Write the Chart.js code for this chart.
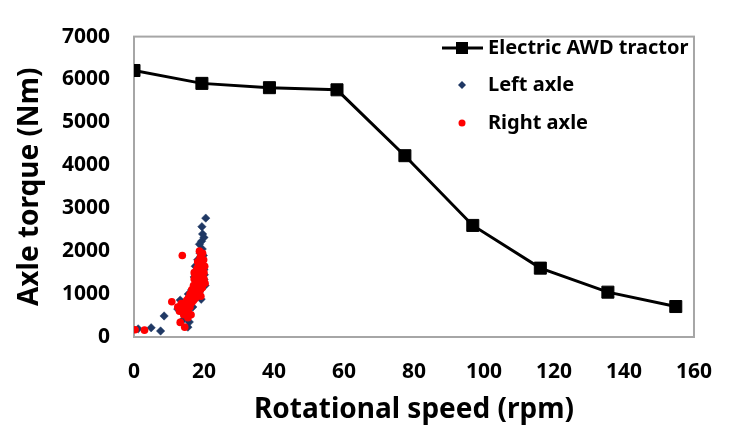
<!DOCTYPE html>
<html>
<head>
<meta charset="utf-8">
<script src="https://cdn.jsdelivr.net/npm/chart.js@4.4.1/dist/chart.umd.min.js"></script>
<style>
html,body{margin:0;padding:0;background:#fff;}
#wrap{width:734px;height:434px;position:relative;}
</style>
</head>
<body>
<div id="wrap"><canvas id="c" width="734" height="434"></canvas></div>
<script>
// ---- data ----
const tractorSpeed = [0, 19.4, 38.7, 58.0, 77.4, 96.8, 116.1, 135.4, 154.8];
const tractorTorque = [6210, 5910, 5810, 5760, 4225, 2600, 1605, 1045, 710];

const leftSpeed  = [1.2, 4.9, 7.6, 8.6, 15.4, 13.2, 14.5, 15.0, 16.0, 16.5, 17.0, 17.8, 18.5, 18.7, 19.0, 19.3, 18.7, 20.0, 19.4, 20.5, 20.0, 20.0, 19.8, 19.5, 20.3, 19.0, 18.2, 14.0, 15.8, 12.5, 20.1, 19.6, 18.9, 17.5, 16.8, 15.5, 17.2, 19.2];
const leftTorque = [190, 215, 140, 490, 230, 860, 750, 600, 900, 1100, 1000, 1300, 1500, 1050, 1700, 2230, 2160, 2320, 2570, 2770, 1570, 1340, 1900, 2050, 1200, 1250, 1800, 400, 350, 650, 1450, 2400, 1950, 1650, 700, 1000, 1400, 880];

const rightSpeed  = [0.3, 3.0, 13.8, 10.8, 13.2, 14.5, 15.4, 12.5, 13.0, 13.5, 14.0, 14.2, 14.8, 15.0, 15.2, 15.5, 15.8, 16.0, 16.2, 16.5, 16.8, 17.0, 17.0, 17.2, 17.5, 17.5, 17.8, 18.0, 18.0, 18.2, 18.3, 18.5, 18.6, 18.8, 18.9, 19.0, 19.2, 19.3, 19.5, 19.5, 19.7, 19.8, 19.9, 20.0, 20.0, 20.2, 19.5, 19.0, 18.5, 18.0, 17.5, 17.0, 16.5, 16.0, 15.5, 15.0, 16.3, 17.2, 19.6, 18.7, 20.3, 19.1];
const rightTorque = [170, 160, 1900, 820, 340, 230, 450, 700, 600, 780, 650, 520, 700, 850, 620, 900, 760, 1000, 880, 1100, 950, 1200, 1050, 1350, 1150, 1450, 1250, 1600, 1300, 1750, 1400, 1550, 1200, 1650, 1850, 1450, 1300, 1550, 1700, 1400, 1600, 1250, 1800, 1500, 1350, 1650, 1150, 1100, 1050, 950, 900, 850, 800, 700, 600, 550, 520, 1500, 1950, 2000, 1250, 950];

const xTicks = [0, 20, 40, 60, 80, 100, 120, 140, 160];
const yTicks = [0, 1000, 2000, 3000, 4000, 5000, 6000, 7000];
const seriesNames = ["Electric AWD tractor", "Left axle", "Right axle"];

const toXY = (xs, ys) => xs.map((x, i) => ({x: x, y: ys[i]}));

const FONT = "'Noto Sans', 'DejaVu Sans', sans-serif";

const frameAndLegend = {
  id: 'frameAndLegend',
  beforeDatasetsDraw(chart) {
    const {ctx, chartArea: a} = chart;
    ctx.save();
    ctx.strokeStyle = '#a6a6a6';
    ctx.lineWidth = 2;
    ctx.strokeRect(a.left, a.top, a.right - a.left, a.bottom - a.top);
    ctx.restore();
  },
  afterDraw(chart) {
    const ctx = chart.ctx;
    ctx.save();
    ctx.font = "bold 20px " + FONT;
    ctx.fillStyle = '#000';
    ctx.textBaseline = 'middle';
    ctx.textAlign = 'left';
    const tx = 488, mx = 462;
    const rows = [48, 85, 123];
    ctx.strokeStyle = '#000'; ctx.lineWidth = 3;
    ctx.beginPath(); ctx.moveTo(442, rows[0]); ctx.lineTo(483, rows[0]); ctx.stroke();
    ctx.fillRect(mx - 6, rows[0] - 6, 12, 12);
    ctx.fillStyle = '#1f3864';
    ctx.beginPath();
    ctx.moveTo(mx, rows[1] - 4); ctx.lineTo(mx + 4, rows[1]); ctx.lineTo(mx, rows[1] + 4); ctx.lineTo(mx - 4, rows[1]);
    ctx.closePath(); ctx.fill();
    ctx.fillStyle = '#ff0000';
    ctx.beginPath(); ctx.arc(mx, rows[2], 3.5, 0, Math.PI * 2); ctx.fill();
    ctx.fillStyle = '#000';
    seriesNames.forEach((n, i) => ctx.fillText(n, tx, rows[i]));
    ctx.restore();
  }
};

new Chart(document.getElementById('c'), {
  type: 'scatter',
  data: {
    datasets: [
      {
        label: seriesNames[0],
        data: toXY(tractorSpeed, tractorTorque),
        showLine: true,
        borderColor: '#000',
        borderWidth: 3,
        backgroundColor: '#000',
        pointStyle: 'rect',
        pointRadius: 8.5,
        pointBorderWidth: 1,
        pointBorderColor: '#000',
        pointBackgroundColor: '#000',
        order: 0
      },
      {
        label: seriesNames[1],
        data: toXY(leftSpeed, leftTorque),
        pointStyle: 'rectRot',
        pointRadius: 4.2,
        pointBorderWidth: 0.5,
        pointBorderColor: '#1f3864',
        pointBackgroundColor: '#1f3864',
        order: 2
      },
      {
        label: seriesNames[2],
        data: toXY(rightSpeed, rightTorque),
        pointStyle: 'circle',
        pointRadius: 3.8,
        pointBorderWidth: 0,
        pointBackgroundColor: '#ff0000',
        order: 1
      }
    ]
  },
  options: {
    responsive: false,
    animation: false,
    devicePixelRatio: 1,
    layout: { padding: { left: 0, top: 23, right: 19, bottom: 0 } },
    plugins: { legend: { display: false }, tooltip: { enabled: false } },
    scales: {
      x: {
        type: 'linear', min: 0, max: 160,
        afterBuildTicks: (s) => { s.ticks = xTicks.map(v => ({value: v})); },
        afterFit: (s) => { s.height = 97; },
        grid: { display: false, drawTicks: false },
        border: { display: false },
        ticks: { color: '#000', padding: 22, maxRotation: 0, callback: (v) => String(v), font: { family: FONT, size: 21, weight: 'bold' } },
        title: { display: true, text: 'Rotational speed (rpm)', color: '#000', padding: { top: 0, bottom: 7 }, font: { family: FONT, size: 28, weight: 'bold' } }
      },
      y: {
        type: 'linear', min: 0, max: 7000,
        afterBuildTicks: (s) => { s.ticks = yTicks.map(v => ({value: v})); },
        afterFit: (s) => { s.width = 134; },
        grid: { display: false, drawTicks: false },
        border: { display: false },
        ticks: { color: '#000', padding: 24, callback: (v) => String(v), font: { family: FONT, size: 21, weight: 'bold' } },
        title: { display: true, text: 'Axle torque (Nm)', color: '#000', padding: { top: 13, bottom: 0 }, font: { family: FONT, size: 28, weight: 'bold' } }
      }
    }
  },
  plugins: [frameAndLegend]
});
</script>
</body>
</html>
